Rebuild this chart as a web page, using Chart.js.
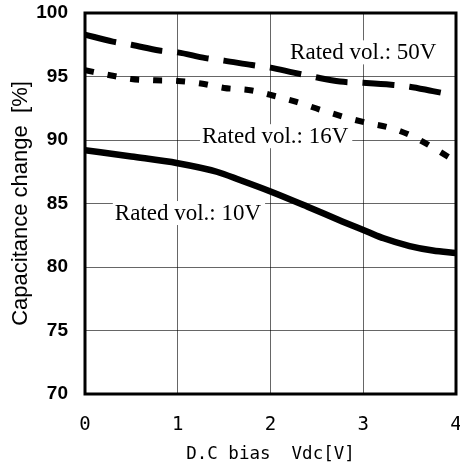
<!DOCTYPE html>
<html><head><meta charset="utf-8">
<script src="https://cdn.jsdelivr.net/npm/chart.js@4.4.1/dist/chart.umd.min.js"></script>
<style>html,body{margin:0;padding:0;background:#fff}#wrap{width:460px;height:470px}</style>
</head><body><div id="wrap"><canvas id="c" width="460" height="470"></canvas></div>
<script>
// ---- data ----
const bias50V = [0, 0.3, 0.5, 0.8, 1, 1.3, 1.5, 1.8, 2, 2.25, 2.45, 2.75, 3, 3.3, 3.5, 3.75, 4];
const cap50V  = [98.3, 97.75, 97.5, 97.05, 96.9, 96.45, 96.25, 95.9, 95.7, 95.3, 95.0, 94.6, 94.5, 94.35, 94.2, 93.85, 93.5];
const bias16V = [0, 0.27, 0.5, 0.75, 1, 1.25, 1.5, 1.8, 2, 2.28, 2.53, 2.8, 3.04, 3.27, 3.5, 3.73, 4];
const cap16V  = [95.5, 95.1, 94.8, 94.7, 94.65, 94.45, 94.1, 93.9, 93.55, 93.0, 92.4, 91.8, 91.35, 91.0, 90.4, 89.5, 88.3];
const bias10V = [0, 0.5, 1, 1.42, 1.67, 2, 2.4, 2.78, 3.04, 3.22, 3.5, 3.75, 4];
const cap10V  = [89.2, 88.7, 88.17, 87.5, 86.85, 85.95, 84.75, 83.57, 82.8, 82.26, 81.65, 81.3, 81.1];
const xTickValues = [0, 1, 2, 3, 4];
const yTickValues = [70, 75, 80, 85, 90, 95, 100];
const seriesNames = ['Rated vol.: 50V', 'Rated vol.: 16V', 'Rated vol.: 10V'];
const xTitle = 'D.C bias  Vdc[V]';
const yTitle = 'Capacitance change  [%]';

const toPts = (xs, ys) => xs.map((x, i) => ({x, y: ys[i]}));

// label anchors in data coordinates (center of text)
const labelAnchors = [
  {name: seriesNames[0], x: 3.0, y: 96.9},
  {name: seriesNames[1], x: 2.05, y: 90.3},
  {name: seriesNames[2], x: 1.11, y: 84.25}
];

const annot = {
  id: 'annot',
  beforeDatasetsDraw(chart) {
    const {ctx, scales: {x, y}} = chart;
    ctx.save();
    ctx.font = '23px "Liberation Serif", serif';
    ctx.textAlign = 'center';
    ctx.textBaseline = 'middle';
    labelAnchors.forEach(a => {
      const px = x.getPixelForValue(a.x), py = y.getPixelForValue(a.y);
      const w = ctx.measureText(a.name).width;
      ctx.fillStyle = '#fff';
      ctx.fillRect(px - w / 2 - 2, py - 12, w + 6, 24);
      ctx.fillStyle = '#000';
      ctx.fillText(a.name, px, py + 1);
    });
    ctx.restore();
  },
  afterDatasetsDraw(chart) {
    const {ctx, chartArea: a} = chart;
    ctx.save();
    ctx.strokeStyle = '#000';
    ctx.lineWidth = 3;
    ctx.strokeRect(a.left, a.top, a.right - a.left, a.bottom - a.top);
    ctx.restore();
  }
};

new Chart(document.getElementById('c'), {
  type: 'line',
  data: {
    datasets: [
      {label: seriesNames[0], data: toPts(bias50V, cap50V), borderColor: '#000', borderWidth: 6, borderDash: [32, 15], borderCapStyle: 'butt', pointRadius: 0, cubicInterpolationMode: 'monotone', fill: false},
      {label: seriesNames[1], data: toPts(bias16V, cap16V), borderColor: '#000', borderWidth: 6, borderDash: [9, 14], borderCapStyle: 'butt', pointRadius: 0, cubicInterpolationMode: 'monotone', fill: false},
      {label: seriesNames[2], data: toPts(bias10V, cap10V), borderColor: '#000', borderWidth: 6.5, pointRadius: 0, cubicInterpolationMode: 'monotone', fill: false}
    ]
  },
  options: {
    responsive: false,
    animation: false,
    layout: {padding: {top: 13, right: 4, left: 0, bottom: 0}},
    plugins: {legend: {display: false}, tooltip: {enabled: false}},
    scales: {
      x: {
        type: 'linear', min: 0, max: 4,
        afterBuildTicks: s => { s.ticks = xTickValues.map(v => ({value: v})); },
        afterFit: s => { s.height = 76; s.paddingLeft = 0; s.paddingRight = 0; },
        grid: {color: 'rgba(0,0,0,0.6)', lineWidth: 1, drawTicks: false},
        border: {display: false},
        ticks: {color: '#000', padding: 20, font: {family: '"DejaVu Sans Mono", monospace', size: 19}, maxRotation: 0, autoSkip: false},
        title: {display: true, text: xTitle, color: '#000', font: {family: '"DejaVu Sans Mono", monospace', size: 17.5}, padding: {top: 0, bottom: 5}}
      },
      y: {
        type: 'linear', min: 70, max: 100,
        afterBuildTicks: s => { s.ticks = yTickValues.map(v => ({value: v})); },
        afterFit: s => { s.width = 85; s.paddingTop = 0; s.paddingBottom = 0; },
        grid: {color: 'rgba(0,0,0,0.6)', lineWidth: 1, drawTicks: false},
        border: {display: false},
        ticks: {color: '#000', padding: 17, font: {family: '"Liberation Sans", Arial, sans-serif', size: 19, weight: 'bold'}, autoSkip: false},
        title: {display: true, text: yTitle, color: '#000', font: {family: '"Liberation Sans", Arial, sans-serif', size: 22}, padding: {top: 8, bottom: 0}}
      }
    }
  },
  plugins: [annot]
});
</script>
</body></html>
